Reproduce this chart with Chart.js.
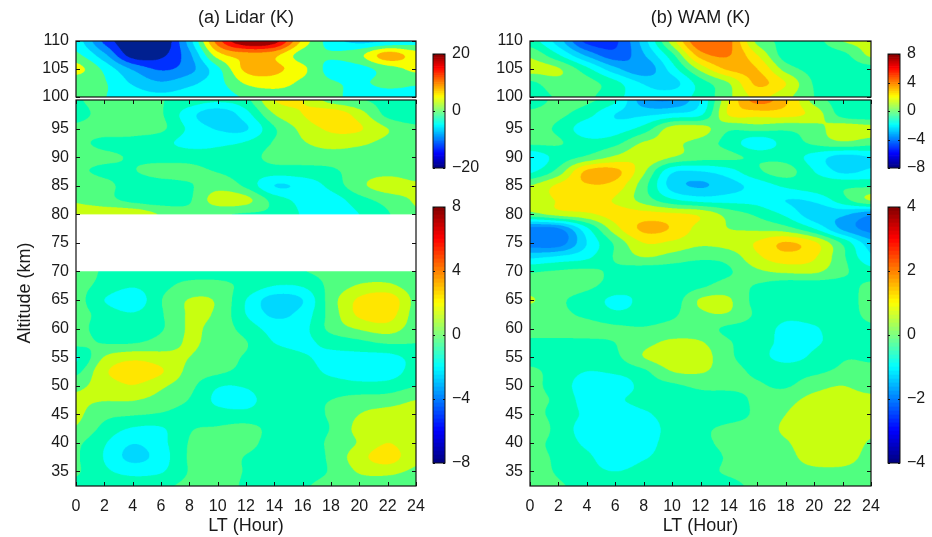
<!DOCTYPE html>
<html><head><meta charset="utf-8">
<script src="https://cdn.jsdelivr.net/npm/chart.js@4"></script>
<style>html,body{margin:0;padding:0;background:#fff;width:932px;height:537px;overflow:hidden}
#page{position:relative;width:932px;height:537px}
canvas{position:absolute;left:0;top:0}</style></head>
<body><div id="page"></div>
<script>
const hours=[0,2,4,6,8,10,12,14,16,18,20,22,24];
const altUpper=[110,107.5,105,102.5,100];
const altLower=[100,97.5,95,92.5,90,87.5,85,82.5,80,77.5,75,72.5,70,67.5,65,62.5,60,57.5,55,52.5,50,47.5,45,42.5,40,37.5,35,32.5];
const ticksHour=[0,2,4,6,8,10,12,14,16,18,20,22,24];
const ticksAltUpper=[100,105,110];
const ticksAltLower=[35,40,45,50,55,60,65,70,75,80,85,90,95];
const lidarUpper=[
[-2,-13,-20,-20,-6,14,24,22,7,-2,-5,-4,-2],
[1,-7,-18,-17,-9,6,10,9,2,.5,3,10,6],
[5.5,-1,-8.5,-12.5,-9.5,-1,9,9,5,-1.5,-1.5,2,5],
[1,.3,-4.5,-7.5,-5,-1.5,4.5,6,3,.5,-.5,1,.5],
[.5,.1,-2,-3,-2,-2,.5,1.5,1.5,1,-1.5,-1.5,-1]];
const lidarLower=[
[-.1,.4,.4,.05,-.4,-.8,-.3,2,2,.6,.1,-.3,-.4],
[-.3,.3,.4,.1,-1.6,-2.7,-1.4,1,2,2.7,1.5,-.3,-.9],
[.2,.4,.4,.2,-1.2,-2.1,-2.1,-.1,1.3,2.2,2.1,1,.3],
[.2,-.2,-.3,-.7,-1.3,-1.2,-.9,.1,.9,1.4,1.2,.7,.3],
[.4,.2,-.1,-.3,-.4,-.6,-.4,.3,.4,.5,.5,.4,.3],
[.2,-.2,-.05,.3,.3,-.05,-.4,-.5,-.4,-.2,.5,.7,.4],
[.9,.3,-.4,-.4,-.1,.6,-.2,-2,-1.7,-.7,.7,1.5,1.2],
[.9,.4,-.3,-.5,-.1,1.5,1.3,-.4,-1.3,-1.5,-.4,.4,1.1],
[1.5,1.7,1.8,.9,.3,.1,-.1,-.2,-1.1,-1.7,-1,-.1,.9],
[null,null,null,null,null,null,null,null,null,null,null,null,null],
[null,null,null,null,null,null,null,null,null,null,null,null,null],
[null,null,null,null,null,null,null,null,null,null,null,null,null],
[.4,-.1,-.4,-.4,-.4,-.4,-.4,-.4,-.05,.3,.5,.6,.4],
[.3,-.3,-.9,-.3,.3,.3,-.3,-1,-.9,.3,1.1,1.2,.5],
[.4,-1,-1.7,-.05,1.05,.85,-1,-2.5,-2,.5,2.2,2.75,.7],
[.4,-.4,-.9,-.1,1.1,.8,-1,-2.2,-1.6,.4,2.2,2.5,.6],
[.4,-.5,-.5,-.1,1.1,.6,-.4,-1.4,-1.3,.3,1.1,1.5,.5],
[.3,-.05,-.05,.4,1.1,.6,.05,-1,-1.2,-.7,-.3,.1,.02],
[-1.1,1.05,1.7,1.4,1,.5,-.1,-.5,-.9,-1.2,-1.3,-1.3,-.7],
[-.3,1.8,2.6,2.1,.7,.2,-.3,-.6,-.6,-1.2,-1.5,-1.5,-.6],
[.8,1.4,1.95,1.2,.3,-.9,-.9,-.3,-.3,-.5,-.7,-.6,-.05],
[1.1,1.05,1.05,.6,-.05,-1.2,-1.3,-.4,-.2,0,.4,.5,1],
[1.2,.3,.1,-.1,-.4,-.6,-.7,-.4,-.2,.1,1,1.4,1.5],
[.9,-.3,-1.1,-1.1,-.1,.1,.3,-.3,-.4,.05,1.3,1.6,1.5],
[.2,-.9,-1.95,-1.3,.05,.4,.3,-.4,-.5,.2,1.1,2,1.3],
[.1,-1.05,-2.3,-1.5,.1,.4,-.05,-.5,-.6,.2,1.6,2.5,1.2],
[.1,-.8,-1.3,-1.1,.05,.3,-.05,-.4,-.4,.1,1.1,1.3,.8],
[-.2,-.3,-.5,-.2,.2,.3,-.1,-.3,-.1,.3,.5,.4,0]];
const wamUpper=[
[-.5,-2.5,-5.3,-5.2,-2.5,1.5,5,4.3,.7,-.2,-.4,1,1.3],
[.8,-.9,-3.2,-4.6,-3.1,-.3,3.5,4.05,2,-.5,-.7,-.3,1.2],
[1.4,1.1,-.7,-2.7,-3.7,-1.5,1.3,3.2,3,.6,-.4,-.6,-.4],
[-.2,.6,.4,-.7,-2.1,-2.4,-.5,1,3.2,2,-.1,-.4,-.6],
[-.5,.1,.2,-.7,-1.5,-1.4,-.7,.8,2.2,1.3,0,-.4,-.5]];
const wamLower=[
[-.2,.1,.1,-.4,-1.8,-2,-1,1,2.2,1.6,.3,-.2,-.3],
[.1,.1,-.3,-1,-1.1,-.9,-.6,1.05,1.2,1.2,.8,-.2,-.4],
[.2,-.1,-.8,-.75,-.3,.7,.7,.1,.2,.1,.3,.8,.7],
[.1,.05,-.3,-.15,.55,.6,.3,-.2,-.8,-.3,.1,.4,.2],
[-.9,-.3,.1,.6,.9,.5,.2,.1,-.1,-.2,-.7,-1.2,-1],
[-.6,.2,1.6,1.65,.6,-.9,-1,-.7,-.1,.2,-.5,-1.1,-.9],
[.5,1.1,1.45,1.3,.2,-1.2,-1.55,-1.2,-.8,-.4,-.2,-.1,-.1],
[.6,1.05,1.2,.95,.3,-.4,-.7,-.7,-.7,-1,-.9,-.2,.55],
[.3,.7,.9,1.2,1.2,1.1,.9,.3,-.1,-.6,-1.3,-1.4,-1.9],
[-2.2,-2.05,-.6,.8,1.6,1.45,.8,.5,.4,.2,-.5,-1.6,-2.2],
[-2.3,-2.3,-1,.1,1,.9,.6,.7,1.05,1.55,1.1,-.1,-1.3],
[-1.1,-.9,-.6,.05,.5,.3,.1,.2,.9,1.3,1.05,.1,-.9],
[-.05,.05,.1,-.1,-.3,-.3,-.3,-.05,.4,.6,.6,.1,-.3],
[.2,.2,.1,-.2,-.4,-.4,-.1,.2,-.05,-.3,-.3,-.2,.1],
[.56,.1,-.2,-.6,-.4,-.3,.55,.55,-.2,-.4,-.4,-.4,.3],
[.2,.1,-.1,-.4,-.3,-.1,.4,.45,-.1,-.4,-.3,-.2,.1],
[.2,.2,.2,.1,.05,.2,.2,-.1,-.25,-.6,-.55,-.2,-.05],
[-.1,-.1,-.1,0,.35,.6,.55,.05,-.3,-.6,-.55,-.3,-.1],
[-.2,-.2,-.2,-.1,.5,.8,.75,.1,-.3,-.65,-.4,-.05,-.05],
[.1,-.2,-.5,-.4,-.1,.5,.55,.2,-.1,-.2,-.1,.1,.1],
[.1,-.2,-.8,-.9,-.3,-.1,.1,.1,.05,-.05,.3,.5,.2],
[.1,-.1,-.7,-.6,-.3,-.3,-.2,-.2,.1,.3,.7,.8,.7],
[.2,-.2,-.6,-.9,-.6,-.3,-.3,-.2,.1,.5,.9,.9,.6],
[.5,-.2,-.7,-.9,-.8,-.3,-.1,.1,.2,.6,.9,.9,.6],
[.2,-.2,-.6,-.9,-.7,-.3,-.1,.1,.2,.45,.8,.8,.45],
[.2,-.1,-.4,-.8,-.55,-.3,-.2,.05,.2,.35,.7,.7,.35],
[.2,-.05,-.3,-.5,-.3,-.2,-.1,.05,.2,.3,.4,.4,.3],
[.3,.05,-.1,-.1,-.1,-.1,-.1,-.1,.1,.2,.3,.3,.3]];
// contour band edges and their fill colours
const levelsLidarUpper=[-24,-16,-12,-8,-4,0,4,8,12,16,20,30];
const colorsLidarUpper=['#002090','#0030ff','#0090ff','#00c8ff','#00ffff','#50ff80','#f8ff00','#ffb000','#ff6000','#ff1000','#a00000'];
const levelsLidarLower=[-4,-3,-2,-1,0,1,2,3,4];
const colorsLidarLower=['#00a0ff','#00d8ff','#00ffff','#00ffb4','#50ff80','#c8ff10','#ffe600','#ffb000'];
const levelsWamUpper=[-8,-5,-4,-3,-2,-1,0,1,2,3,4,8];
const colorsWamUpper=['#0030ff','#0060ff','#00a0ff','#00d8ff','#00ffff','#00ffb4','#50ff80','#c8ff10','#ffe600','#ffb000','#ff7000'];
const levelsWamLower=[-4,-2,-1.5,-1,-.5,0,.5,1,1.5,2,4];
const colorsWamLower=['#0080ff','#00a0ff','#00d8ff','#00ffff','#00ffb4','#50ff80','#c8ff10','#ffe600','#ffb000','#ff7000'];
const ticksBarA1=[-20,0,20], ticksBarA2=[-8,-4,0,4,8], ticksBarB1=[-8,-4,0,4,8], ticksBarB2=[-4,-2,0,2,4];

const FONT='"Liberation Sans", Arial, sans-serif', INK='#1a1a1a';
const page=document.getElementById('page');
function canvas(){const c=document.createElement('canvas');c.width=932;c.height=537;c.style.width='932px';c.style.height='537px';page.appendChild(c);return c.getContext('2d');}
const fmt=v=>v<0?'\u2212'+Math.abs(v):String(v);
function setTicks(list){return s=>{s.ticks=list.map(v=>({value:v}));};}
function hexRGB(h){return [parseInt(h.slice(1,3),16),parseInt(h.slice(3,5),16),parseInt(h.slice(5,7),16)];}
const cr=(a,b,c,d,t)=>b+.5*t*(c-a+t*(2*a-5*b+4*c-d+t*(3*(b-c)+d-a)));

function contourPlugin(rows,alts,levels,colors){
  const rgb=colors.map(hexRGB);
  const nr=rows.length,nc=hours.length;
  return {id:'contour',beforeDatasetsDraw(chart){
    const a=chart.chartArea,xs=chart.scales.x,ys=chart.scales.y,S=3;
    const W=Math.round(a.right-a.left),H=Math.round(a.bottom-a.top);
    const off=document.createElement('canvas');off.width=W*S;off.height=H*S;
    const oc=off.getContext('2d'),img=oc.createImageData(W*S,H*S),d=img.data;
    for(let j=0;j<H*S;j++){
      const alt=ys.getValueForPixel(a.top+(j+.5)/S);
      let r=0;while(r<nr-2&&alt<alts[r+1])r++;
      const fy=Math.min(1,Math.max(0,(alts[r]-alt)/(alts[r]-alts[r+1])));
      const R1=rows[r],R2=rows[r+1];
      if(R1[0]===null||R2[0]===null)continue;
      let R0=r>0?rows[r-1]:R1,R3=r+2<nr?rows[r+2]:R2;
      if(R0[0]===null)R0=R1; if(R3[0]===null)R3=R2;
      for(let i=0;i<W*S;i++){
        const h=xs.getValueForPixel(a.left+(i+.5)/S);
        const c=Math.min(nc-2,Math.max(0,Math.floor(h/2)));
        const fx=Math.min(1,Math.max(0,(h-hours[c])/(hours[c+1]-hours[c])));
        const c0=Math.max(0,c-1),c3=Math.min(nc-1,c+2);
        const v=cr(cr(R0[c0],R0[c],R0[c+1],R0[c3],fx),cr(R1[c0],R1[c],R1[c+1],R1[c3],fx),
                   cr(R2[c0],R2[c],R2[c+1],R2[c3],fx),cr(R3[c0],R3[c],R3[c+1],R3[c3],fx),fy);
        let b=0;while(b<colors.length-1&&v>=levels[b+1])b++;
        const o=(j*W*S+i)*4,col=rgb[b];
        d[o]=col[0];d[o+1]=col[1];d[o+2]=col[2];d[o+3]=255;
      }
    }
    oc.putImageData(img,0,0);
    const ctx=chart.ctx;ctx.save();ctx.imageSmoothingEnabled=true;ctx.imageSmoothingQuality='high';
    ctx.drawImage(off,a.left,a.top,W,H);ctx.restore();
  }};
}
function framePlugin(tx,len,lw){
  return {id:'frame',afterDraw(chart){
    const a=chart.chartArea,ctx=chart.ctx;ctx.save();ctx.strokeStyle='#111';ctx.lineWidth=1;ctx.beginPath();
    chart.scales.y.ticks.forEach(t=>{const p=Math.round(chart.scales.y.getPixelForValue(t.value))+.5;
      ctx.moveTo(a.left,p);ctx.lineTo(a.left+len,p);ctx.moveTo(a.right,p);ctx.lineTo(a.right-len,p);});
    if(tx)chart.scales.x.ticks.forEach(t=>{const p=Math.round(chart.scales.x.getPixelForValue(t.value))+.5;
      ctx.moveTo(p,a.bottom);ctx.lineTo(p,a.bottom-len);ctx.moveTo(p,a.top);ctx.lineTo(p,a.top+len);});
    ctx.stroke();ctx.lineWidth=lw;ctx.strokeRect(a.left,a.top,a.right-a.left,a.bottom-a.top);ctx.restore();
  }};
}
function panel(o){
  const pts=[];o.rows.forEach((row,r)=>row.forEach((v,c)=>{if(v!==null)pts.push({x:hours[c],y:o.alts[r],v});}));
  const yW=o.yTitle?62:40,xH=o.xAxis?51:0,titleH=o.title?18+14:0;
  new Chart(canvas(),{type:'scatter',
    data:{datasets:[{data:pts,pointRadius:0,pointHoverRadius:0}]},
    plugins:[contourPlugin(o.rows,o.alts,o.levels,o.colors),framePlugin(o.xAxis,4,1.2)],
    options:{responsive:false,animation:false,events:[],
      layout:{padding:{left:o.box[0]-yW,top:o.box[1]-titleH,right:932-o.box[2],bottom:537-o.box[3]-xH}},
      plugins:{legend:{display:false},tooltip:{enabled:false},
        title:{display:!!o.title,text:o.title||'',fullSize:false,color:INK,font:{family:FONT,size:18,weight:'normal',lineHeight:1.0},padding:{top:0,bottom:14}}},
      scales:{
        x:{type:'linear',display:!!o.xAxis,min:0,max:24,grid:{display:false,drawTicks:false},border:{display:false},
          afterBuildTicks:setTicks(ticksHour),afterFit(s){s.height=xH;},
          ticks:{color:INK,font:{family:FONT,size:16},padding:11,maxRotation:0,autoSkip:false,callback:fmt},
          title:{display:true,text:'LT (Hour)',color:INK,font:{family:FONT,size:18},padding:0}},
        y:{type:'linear',min:o.yMin,max:o.yMax,grid:{display:false,drawTicks:false},border:{display:false},
          afterBuildTicks:setTicks(o.yTicks),afterFit(s){s.width=yW;},
          ticks:{color:INK,font:{family:FONT,size:16},padding:7,autoSkip:false,callback:fmt},
          title:{display:!!o.yTitle,text:'Altitude (km)',color:INK,font:{family:FONT,size:18},padding:0}}
      }}});
}
function jet(i,n){const t=(i+.5)/n,f=v=>Math.round(255*Math.max(0,Math.min(1,v)));
  return `rgb(${f(1.5-Math.abs(4*t-3))},${f(1.5-Math.abs(4*t-2))},${f(1.5-Math.abs(4*t-1))})`;}
function colorbar(box,list){
  const R=Math.max(...list),n=64,ds=[];
  for(let i=0;i<n;i++){ds.push({data:[[-R+2*R*i/n,-R+2*R*(i+1)/n]],backgroundColor:jet(i,n),barPercentage:1,categoryPercentage:1,grouped:false,borderWidth:0});}
  new Chart(canvas(),{type:'bar',data:{labels:['scale'],datasets:ds},
    plugins:[framePlugin(false,2,1)],
    options:{responsive:false,animation:false,events:[],
      layout:{padding:{left:box[0],top:box[1],right:932-box[2]-40,bottom:537-box[3]}},
      plugins:{legend:{display:false},tooltip:{enabled:false}},
      scales:{x:{display:false},
        y:{position:'right',min:-R,max:R,grid:{display:false,drawTicks:false},border:{display:false},
          afterBuildTicks:setTicks(list),afterFit(s){s.width=40;},
          ticks:{color:INK,font:{family:FONT,size:16},padding:7,autoSkip:false,callback:fmt}}}}});
}
panel({rows:lidarUpper,alts:altUpper,levels:levelsLidarUpper,colors:colorsLidarUpper,box:[76,41,416,97],yMin:100,yMax:110,yTicks:ticksAltUpper,title:'(a) Lidar (K)'});
panel({rows:lidarLower,alts:altLower,levels:levelsLidarLower,colors:colorsLidarLower,box:[76,100,416,486],yMin:32.46,yMax:100,yTicks:ticksAltLower,xAxis:true,yTitle:true});
panel({rows:wamUpper,alts:altUpper,levels:levelsWamUpper,colors:colorsWamUpper,box:[530,41,871,97],yMin:100,yMax:110,yTicks:ticksAltUpper,title:'(b) WAM (K)'});
panel({rows:wamLower,alts:altLower,levels:levelsWamLower,colors:colorsWamLower,box:[530,100,871,486],yMin:32.46,yMax:100,yTicks:ticksAltLower,xAxis:true});
colorbar([433,54,445,168],ticksBarA1);
colorbar([433,207,445,463],ticksBarA2);
colorbar([888,54,900,168],ticksBarB1);
colorbar([888,207,900,463],ticksBarB2);
</script></body></html>
